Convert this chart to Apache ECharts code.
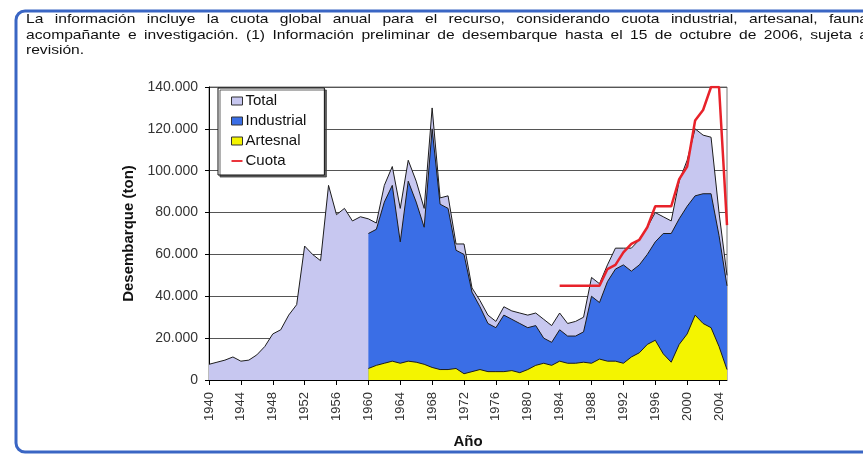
<!DOCTYPE html>
<html>
<head>
<meta charset="utf-8">
<script src="https://cdn.jsdelivr.net/npm/echarts@6/dist/echarts.min.js"></script>
<style>
  html, body { margin: 0; padding: 0; background: #ffffff; }
  #chart { width: 863px; height: 454px; }
</style>
</head>
<body>
<div id="chart"></div>
<script>
// Landing years (category axis)
const years = [
  '1940','1941','1942','1943','1944','1945','1946','1947','1948','1949',
  '1950','1951','1952','1953','1954','1955','1956','1957','1958','1959',
  '1960','1961','1962','1963','1964','1965','1966','1967','1968','1969',
  '1970','1971','1972','1973','1974','1975','1976','1977','1978','1979',
  '1980','1981','1982','1983','1984','1985','1986','1987','1988','1989',
  '1990','1991','1992','1993','1994','1995','1996','1997','1998','1999',
  '2000','2001','2002','2003','2004','2005'
];

// Total landings (ton)
const totalLandings = [
  7500, 8500, 9500, 11000, 9000, 9500, 12000, 16000, 22000, 24000,
  31000, 36000, 64000, 60000, 57000, 93000, 79000, 82000, 76000, 78000,
  77000, 75000, 93000, 102000, 82000, 105000, 95000, 82000, 130000, 87000,
  88000, 65000, 65000, 44000, 38000, 31000, 28000, 35000, 33000, 32000,
  31000, 32000, 29000, 26000, 32000, 27000, 28000, 30000, 49000, 46000,
  55000, 63000, 63000, 63000, 67000, 73000, 80000, 78000, 76000, 95000,
  105000, 120000, 117000, 116000, 80000, 50000
];

// Industrial fleet landings (ton)
const industrialLandings = [
  null, null, null, null, null, null, null, null, null, null,
  null, null, null, null, null, null, null, null, null, null,
  70000, 72000, 85000, 93000, 66000, 95000, 85000, 73000, 120000, 84000,
  82000, 62000, 60000, 42000, 35000, 27000, 25000, 31000, 29000, 27000,
  25000, 26000, 20000, 18000, 24000, 21000, 21000, 23000, 40000, 37000,
  47000, 53000, 55000, 52000, 55000, 60000, 66000, 70000, 70000, 77000,
  83000, 88000, 89000, 89000, 69000, 45000
];

// Artisanal fleet landings (ton)
const artesanalLandings = [
  null, null, null, null, null, null, null, null, null, null,
  null, null, null, null, null, null, null, null, null, null,
  5500, 7000, 8000, 9000, 8000, 9000, 8500, 7500, 6000, 5000,
  5000, 5500, 3000, 4000, 5000, 4000, 4000, 4000, 4500, 3500,
  5000, 7000, 8000, 7000, 9000, 8000, 8000, 8500, 8000, 10000,
  9000, 9000, 8000, 11000, 13000, 17000, 19000, 12500, 8500, 17000,
  22000, 31000, 27000, 25000, 16000, 5000
];

// Global annual quota (ton)
const cuota = [
  null, null, null, null, null, null, null, null, null, null,
  null, null, null, null, null, null, null, null, null, null,
  null, null, null, null, null, null, null, null, null, null,
  null, null, null, null, null, null, null, null, null, null,
  null, null, null, null, 45000, 45000, 45000, 45000, 45000, 45000,
  53000, 55000, 61000, 65000, 67000, 73000, 83000, 83000, 83000, 96000,
  102000, 124000, 129000, 140000, 140000, 74000
];

const seriesNames = ['Total', 'Industrial', 'Artesnal', 'Cuota'];

const yTicks = { min: 0, max: 140000, interval: 20000 };

const noteLines = [
  'La información incluye la cuota global anual para el recurso, considerando cuota industrial, artesanal, fauna',
  'acompañante e investigación. (1) Información preliminar de desembarque hasta el 15 de octubre de 2006, sujeta a',
  'revisión.'
];

const C_TOTAL = '#c7c7f0';
const C_IND = '#3a6ee6';
const C_ART = '#f4f400';
const C_CUOTA = '#e8222a';
const C_EDGE = '#1c1c1c';

// Justified note paragraph laid out word by word
const NOTE_FONT_SIZE = 13;
const NOTE_SCALE_X = 1.2;
const NOTE_FAMILY = '"Liberation Sans", Arial, sans-serif';
const measureCtx = document.createElement('canvas').getContext('2d');
measureCtx.font = NOTE_FONT_SIZE + 'px ' + NOTE_FAMILY;

function noteLine(text, y, left, right, justify) {
  const words = text.split(' ');
  const widths = words.map(w => measureCtx.measureText(w).width * NOTE_SCALE_X);
  const space = measureCtx.measureText(' ').width * NOTE_SCALE_X;
  const sum = widths.reduce((a, b) => a + b, 0);
  let gap = space;
  if (justify && words.length > 1) {
    gap = Math.max(2, (right - left - sum) / (words.length - 1));
  }
  const out = [];
  let x = left;
  words.forEach((w, i) => {
    out.push({
      type: 'text',
      x: x, y: y,
      scaleX: NOTE_SCALE_X,
      silent: true,
      style: {
        text: w,
        fontSize: NOTE_FONT_SIZE,
        fontFamily: NOTE_FAMILY,
        fill: '#111111',
        verticalAlign: 'middle'
      }
    });
    x += widths[i] + gap;
  });
  return out;
}

const noteElements = []
  .concat(noteLine(noteLines[0], 19, 26, 868, true))
  .concat(noteLine(noteLines[1], 35, 26, 868, true))
  .concat(noteLine(noteLines[2], 50, 26, 868, false));

function thousands(v) {
  return String(v).replace(/\B(?=(\d{3})+(?!\d))/g, '.');
}

const chart = echarts.init(document.getElementById('chart'), null, { renderer: 'canvas' });

const areaSeries = (name, data, color, z) => ({
  name: name,
  type: 'line',
  data: data,
  z: z,
  symbol: 'none',
  connectNulls: false,
  itemStyle: { color: color },
  lineStyle: { color: C_EDGE, width: 1 },
  areaStyle: { color: color, opacity: 1 },
  emphasis: { disabled: true },
  animation: false
});

chart.setOption({
  animation: false,
  textStyle: { fontFamily: 'Arial, "Liberation Sans", sans-serif' },
  graphic: [
    {
      type: 'rect',
      silent: true,
      shape: { x: 16, y: 11, width: 900, height: 441, r: 9 },
      style: { fill: 'none', stroke: '#3a66c4', lineWidth: 3 }
    }
  ].concat(noteElements),
  grid: {
    left: 209, right: 136, top: 87, bottom: 71,
    show: true, borderColor: '#777777', borderWidth: 1, backgroundColor: 'transparent'
  },
  legend: {
    data: [
      { name: 'Total', icon: 'rect', itemStyle: { color: C_TOTAL, borderColor: '#333', borderWidth: 1 } },
      { name: 'Industrial', icon: 'rect', itemStyle: { color: C_IND, borderColor: '#333', borderWidth: 1 } },
      { name: 'Artesnal', icon: 'rect', itemStyle: { color: C_ART, borderColor: '#333', borderWidth: 1 } },
      { name: 'Cuota', icon: 'path://M0,0 H12 V2 H0 Z', itemStyle: { color: C_CUOTA, borderWidth: 0 } }
    ],
    orient: 'vertical',
    left: 218, top: 88,
    itemWidth: 11, itemHeight: 8, itemGap: 4,
    padding: [5, 18, 6, 13],
    backgroundColor: '#ffffff',
    borderColor: '#111111', borderWidth: 1, borderRadius: 0,
    shadowColor: 'rgba(60,60,60,0.8)', shadowOffsetX: 2, shadowOffsetY: 2, shadowBlur: 0,
    selectedMode: false,
    textStyle: { fontSize: 15, lineHeight: 16, color: '#111111', padding: [0, 0, 0, -2] }
  },
  xAxis: {
    type: 'category',
    data: years,
    boundaryGap: false,
    name: 'Año',
    nameLocation: 'middle',
    nameGap: 54,
    nameTextStyle: { fontSize: 15, fontWeight: 'bold', color: '#111111' },
    axisLine: { show: true, lineStyle: { color: '#000000', width: 1 } },
    axisTick: { show: true, interval: 3, length: 5, lineStyle: { color: '#000000' } },
    axisLabel: { interval: 3, rotate: 90, fontSize: 13, color: '#333333', margin: 12 },
    splitLine: { show: false }
  },
  yAxis: {
    type: 'value',
    min: yTicks.min, max: yTicks.max, interval: yTicks.interval,
    name: 'Desembarque (ton)',
    nameLocation: 'middle',
    nameGap: 72,
    nameTextStyle: { fontSize: 15, fontWeight: 'bold', color: '#111111' },
    axisLine: { show: true, lineStyle: { color: '#000000', width: 1 } },
    axisTick: { show: true, length: 4, lineStyle: { color: '#000000' } },
    axisLabel: { fontSize: 14, color: '#333333', margin: 11, formatter: thousands },
    splitLine: { show: true, lineStyle: { color: '#555555', width: 1 } }
  },
  series: [
    areaSeries(seriesNames[0], totalLandings, C_TOTAL, 2),
    areaSeries(seriesNames[1], industrialLandings, C_IND, 3),
    areaSeries(seriesNames[2], artesanalLandings, C_ART, 4),
    {
      name: seriesNames[3],
      type: 'line',
      data: cuota,
      z: 5,
      symbol: 'none',
      itemStyle: { color: C_CUOTA },
      lineStyle: { color: C_CUOTA, width: 2.5 },
      emphasis: { disabled: true },
      animation: false
    }
  ]
});
</script>
</body>
</html>
